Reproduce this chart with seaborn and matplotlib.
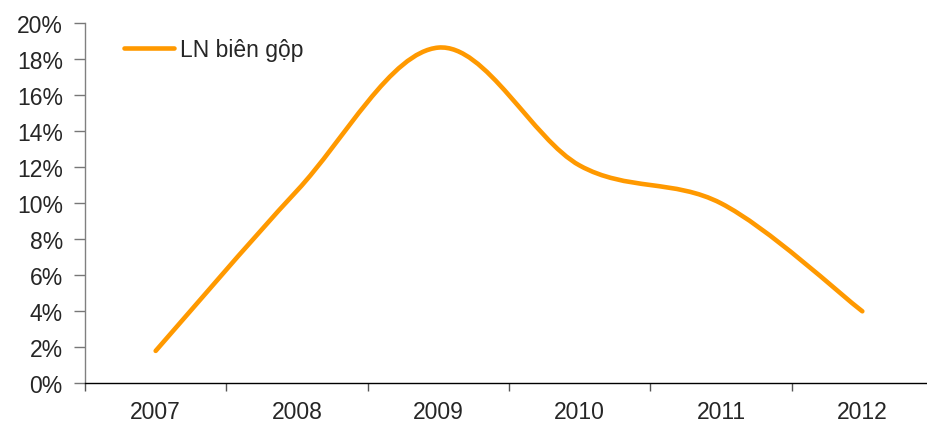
import numpy as np
import matplotlib
matplotlib.use("Agg")
import matplotlib.pyplot as plt
import seaborn as sns
from matplotlib.path import Path
from matplotlib.patches import PathPatch
from matplotlib.lines import Line2D
from matplotlib.ticker import FixedLocator, FuncFormatter

# Dữ liệu
years = ["2007", "2008", "2009", "2010", "2011", "2012"]
bien_gop = [1.8, 10.7, 18.65, 12.1, 10.0, 4.0]   # %
series_name = "LN biên gộp"

sns.set_style("white")
plt.rcParams['font.family'] = ['Liberation Sans', 'DejaVu Sans']

fig = plt.figure(figsize=(9.28, 4.27), dpi=100)
ax = fig.add_axes([85 / 928, 42.7 / 427, 848 / 928, 360 / 427])

orange = "#FF9900"
fs = 16.5

# Đường cong mượt kiểu Excel (Bezier qua các điểm dữ liệu)
x = np.arange(len(years), dtype=float)
y = np.array(bien_gop)
pts = np.column_stack([x, y])
ext = np.vstack([pts[0], pts, pts[-1]])
verts = [tuple(pts[0])]
codes = [Path.MOVETO]
for i in range(len(pts) - 1):
    p0, p1, p2, p3 = ext[i], ext[i + 1], ext[i + 2], ext[i + 3]
    c1 = p1 + (p2 - p0) / 6
    c2 = p2 - (p3 - p1) / 6
    verts += [tuple(c1), tuple(c2), tuple(p2)]
    codes += [Path.CURVE4] * 3
curve = PathPatch(Path(verts, codes), fill=False, edgecolor=orange, lw=3.3,
                  capstyle='round', joinstyle='round', zorder=3)
ax.add_patch(curve)

ax.set_xlim(-0.5, len(years) - 0.5)
ax.set_ylim(0, 20)

# Trục x: vạch chia ở ranh giới, nhãn ở giữa
ax.xaxis.set_major_locator(FixedLocator(np.arange(-0.5, len(years), 1.0)))
ax.xaxis.set_major_formatter(FuncFormatter(lambda v, p: ""))
ax.xaxis.set_minor_locator(FixedLocator(x))
ax.set_xticklabels(years, minor=True)
ax.tick_params(axis='x', which='major', length=6, width=1, color='#555555', direction='out', bottom=True)
ax.tick_params(axis='x', which='minor', length=0, pad=12, labelsize=fs)

ax.set_yticks(np.arange(0, 21, 2))
ax.yaxis.set_major_formatter(FuncFormatter(lambda v, p: f"{v:.0f}%"))
ax.tick_params(axis='y', length=8, width=1, color='#777777', direction='out', left=True, pad=8, labelsize=fs)

for s in ['top', 'right']:
    ax.spines[s].set_visible(False)
ax.spines['left'].set_color('#808080')
ax.spines['left'].set_linewidth(1)
ax.spines['bottom'].set_color('black')
ax.spines['bottom'].set_linewidth(1)

handle = Line2D([], [], color=orange, lw=3.3, solid_capstyle='round')
ax.legend([handle], [series_name], loc='center left', bbox_to_anchor=(0.046, 0.926),
          frameon=False, fontsize=fs, handlelength=2.2, handletextpad=0.25,
          borderpad=0, borderaxespad=0)

fig.savefig("out.png", dpi=100)
